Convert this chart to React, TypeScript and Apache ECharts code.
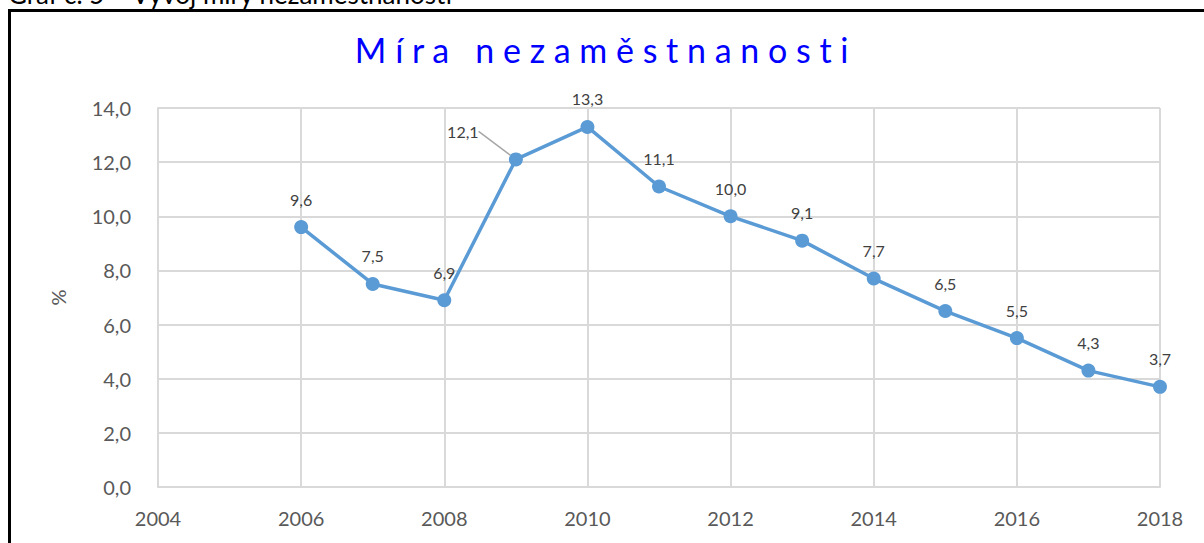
import React, { useEffect, useRef } from "react";
import * as echarts from "echarts";

const caption = "Graf č. 5 – Vývoj míry nezaměstnanosti";
const title = "Míra nezaměstnanosti";
const years = [2006, 2007, 2008, 2009, 2010, 2011, 2012, 2013, 2014, 2015, 2016, 2017, 2018];
const rates = [9.6, 7.5, 6.9, 12.1, 13.3, 11.1, 10.0, 9.1, 7.7, 6.5, 5.5, 4.3, 3.7];
const yAxisName = "%";

const fmt = (v: number) => v.toFixed(1).replace(".", ",");
const spaced = (s: string) => s.split(" ").map((w) => w.split("").join(" ")).join("   ");

export default function App() {
  const ref = useRef<HTMLDivElement>(null);
  useEffect(() => {
    if (!ref.current) return;
    const chart = echarts.init(ref.current, null, { renderer: "svg" });
    const font = "Lato, 'Open Sans', sans-serif";
    const data = years.map((y, i) =>
      i === 3
        ? { value: [y, rates[i]], labelLine: { show: true, lineStyle: { color: "#a6a6a6", width: 1.5 } } }
        : { value: [y, rates[i]] }
    );
    chart.setOption({
      animation: false,
      backgroundColor: "#ffffff",
      textStyle: { fontFamily: font },
      graphic: [
        {
          type: "text",
          left: 8,
          top: -19,
          style: { text: caption, fontSize: 26, fill: "#000", fontFamily: font },
        },
        {
          type: "rect",
          shape: { x: 9.5, y: 10.5, width: 1300, height: 700 },
          style: { fill: "none", stroke: "#000", lineWidth: 3 },
        },
        {
          type: "text",
          left: "center",
          top: 32,
          style: { text: spaced(title), fontSize: 34, fill: "#0000ff", fontFamily: font },
        },
      ],
      grid: { left: 158, right: 44, top: 108, bottom: 56, containLabel: false },
      xAxis: {
        type: "value",
        min: 2004,
        max: 2018,
        interval: 2,
        axisLine: { show: true, lineStyle: { color: "#d9d9d9", width: 2 } },
        axisTick: { show: false },
        splitLine: { show: true, lineStyle: { color: "#d9d9d9", width: 2 } },
        axisLabel: {
          color: "#595959",
          fontSize: 20,
          margin: 21,
          fontFamily: font,
          formatter: (v: number) => String(v),
        },
      },
      yAxis: {
        type: "value",
        min: 0,
        max: 14,
        interval: 2,
        name: yAxisName,
        nameLocation: "middle",
        nameGap: 90,
        nameRotate: 90,
        nameTextStyle: { color: "#595959", fontSize: 20, fontFamily: font },
        axisLine: { show: true, lineStyle: { color: "#d9d9d9", width: 2 } },
        axisTick: { show: false },
        splitLine: { show: true, lineStyle: { color: "#d9d9d9", width: 2 } },
        axisLabel: { color: "#595959", fontSize: 20, margin: 27, fontFamily: font, formatter: (v: number) => fmt(v) },
      },
      series: [
        {
          type: "line",
          data,
          symbol: "circle",
          symbolSize: 14,
          lineStyle: { color: "#5b9bd5", width: 3.5 },
          itemStyle: { color: "#5b9bd5" },
          label: {
            show: true,
            position: "top",
            distance: 13,
            fontSize: 16,
            color: "#404040",
            fontFamily: font,
            formatter: (p: any) => fmt(p.value[1]),
          },
          labelLayout: (p: any) => (p.dataIndex === 3 ? { dx: -53, dy: 0 } : {}),
        },
      ],
    });
    return () => chart.dispose();
  }, []);
  return (
    <div
      ref={ref}
      style={{ position: "absolute", left: 0, top: 0, width: 1204, height: 543 }}
    />
  );
}
